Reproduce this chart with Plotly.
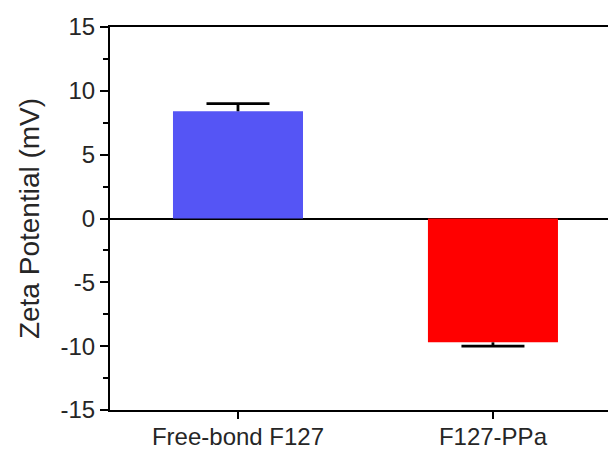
import plotly.graph_objects as go

categories = ["Free-bond F127", "F127-PPa"]
values = [8.4, -9.7]
err_plus = [0.6, 0.0]
err_minus = [0.0, 0.3]
colors = ["#5555F5", "#FF0000"]
ytickvals = [-15, -10, -5, 0, 5, 10, 15]
yticktext = ["-15", "-10", "-5", "0", "5", "10", "15"]

cap_y = [v + p - m for v, p, m in zip(values, err_plus, err_minus)]

fig = go.Figure()
fig.add_trace(go.Bar(
    x=categories, y=values, marker=dict(color=colors, line=dict(width=0)),
    width=0.51,
    error_y=dict(type="data", symmetric=False, array=err_plus, arrayminus=err_minus,
                 color="black", thickness=2.8, width=0),
))
fig.add_trace(go.Scatter(
    x=categories, y=cap_y, mode="markers", hoverinfo="skip",
    marker=dict(symbol="line-ew-open", size=45, color="black",
                line=dict(color="black", width=2.8)),
))
fig.update_layout(
    width=616, height=450,
    margin=dict(l=102, r=0, t=19, b=48),
    plot_bgcolor="white", paper_bgcolor="white",
    showlegend=False,
    font=dict(family="Liberation Sans, Arial", color="#262626"),
    xaxis=dict(range=[-0.502, 1.514], showline=True, linecolor="black", linewidth=2,
               mirror=True, ticks="outside", ticklen=7, tickwidth=2, tickcolor="black",
               tickfont=dict(size=24), ticklabelstandoff=-3, showgrid=False),
    yaxis=dict(range=[-15, 15], tickvals=ytickvals, ticktext=yticktext,
               showline=True, linecolor="black", linewidth=2, mirror=False,
               ticks="outside", ticklen=8, tickwidth=2, tickcolor="black",
               minor=dict(dtick=2.5, ticks="outside", ticklen=5, tickwidth=2, tickcolor="black"),
               tickfont=dict(size=24), showgrid=False,
               zeroline=True, zerolinecolor="black", zerolinewidth=2,
               title=dict(text="Zeta Potential (mV)", font=dict(size=28), standoff=13)),
)
fig.write_html("out.html")
